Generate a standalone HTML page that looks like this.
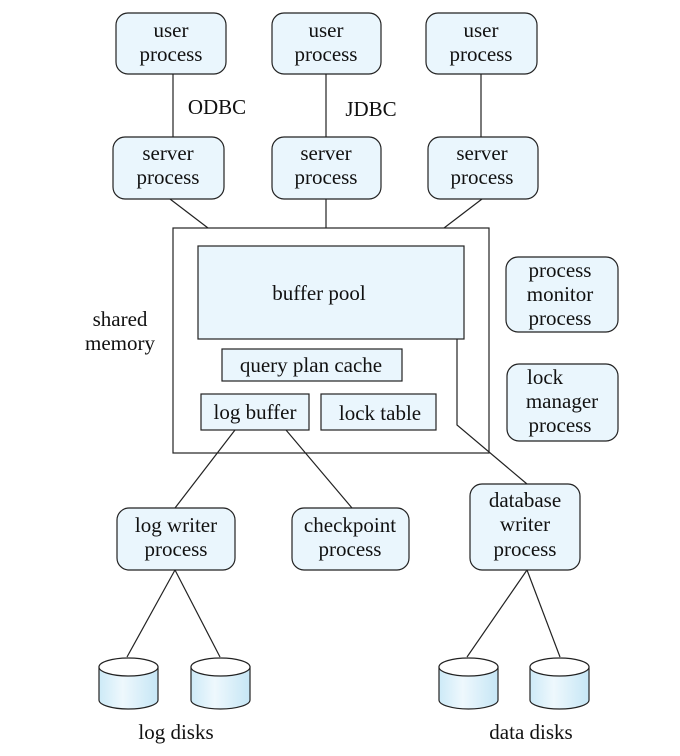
<!DOCTYPE html>
<html><head><meta charset="utf-8"><style>
html,body{margin:0;padding:0;background:#fff;}
svg{display:block;}
text{font-family:"Liberation Serif",serif;font-size:21px;fill:#111;text-anchor:middle;}
.b{fill:#eaf6fd;stroke:#222;stroke-width:1.2;}
.l{stroke:#222;stroke-width:1.2;fill:none;}
</style></head><body>
<svg width="680" height="756" viewBox="0 0 680 756">
<defs><linearGradient id="g" x1="0" x2="1"><stop offset="0" stop-color="#cdeaf7"/><stop offset="0.4" stop-color="#eef8fd"/><stop offset="1" stop-color="#c6e6f5"/></linearGradient></defs>
<!-- shared memory box -->
<rect x="173" y="228" width="316" height="225" fill="#fff" stroke="#222" stroke-width="1.2"/>
<!-- lines -->
<line class="l" x1="173" y1="74" x2="173" y2="137"/>
<line class="l" x1="326" y1="74" x2="326" y2="137"/>
<line class="l" x1="481" y1="74" x2="481" y2="137"/>
<line class="l" x1="170" y1="199" x2="208" y2="228"/>
<line class="l" x1="326" y1="199" x2="326" y2="228"/>
<line class="l" x1="482" y1="199" x2="444" y2="228"/>
<polyline class="l" points="457,339 457,425 527,484"/>
<line class="l" x1="235" y1="430" x2="175" y2="508"/>
<line class="l" x1="286" y1="430" x2="352" y2="508"/>
<line class="l" x1="175" y1="570" x2="127" y2="657"/>
<line class="l" x1="175" y1="570" x2="220" y2="657"/>
<line class="l" x1="527" y1="570" x2="467" y2="657"/>
<line class="l" x1="527" y1="570" x2="560" y2="657"/>
<!-- user/server -->
<rect class="b" x="116" y="13" width="110" height="61" rx="12"/>
<rect class="b" x="272" y="13" width="109" height="61" rx="12"/>
<rect class="b" x="426" y="13" width="111" height="61" rx="12"/>
<text x="171" y="37">user</text><text x="171" y="61">process</text>
<text x="326" y="37">user</text><text x="326" y="61">process</text>
<text x="481" y="37">user</text><text x="481" y="61">process</text>
<text x="217" y="114">ODBC</text><text x="371" y="116">JDBC</text>
<rect class="b" x="113" y="137" width="111" height="62" rx="12"/>
<rect class="b" x="272" y="137" width="109" height="62" rx="12"/>
<rect class="b" x="428" y="137" width="110" height="62" rx="12"/>
<text x="168" y="160">server</text><text x="168" y="184">process</text>
<text x="326" y="160">server</text><text x="326" y="184">process</text>
<text x="482" y="160">server</text><text x="482" y="184">process</text>
<text x="120" y="326">shared</text><text x="120" y="350">memory</text>
<rect class="b" x="198" y="246" width="266" height="93"/>
<text x="319" y="300">buffer pool</text>
<rect class="b" x="222" y="349" width="180" height="32"/>
<text x="311" y="372">query plan cache</text>
<rect class="b" x="201" y="394" width="108" height="36"/>
<text x="255" y="419">log buffer</text>
<rect class="b" x="321" y="394" width="115" height="36"/>
<text x="380" y="420">lock table</text>
<!-- right -->
<rect class="b" x="506" y="257" width="112" height="75" rx="12"/>
<text x="560" y="277">process</text><text x="560" y="301">monitor</text><text x="560" y="325">process</text>
<rect class="b" x="507" y="364" width="111" height="77" rx="12"/>
<text x="527" y="384" style="text-anchor:start">lock</text><text x="562" y="408">manager</text><text x="560" y="432">process</text>
<!-- lower -->
<rect class="b" x="117" y="508" width="118" height="62" rx="12"/>
<text x="176" y="532">log writer</text><text x="176" y="556">process</text>
<rect class="b" x="292" y="508" width="117" height="62" rx="12"/>
<text x="350" y="532">checkpoint</text><text x="350" y="556">process</text>
<rect class="b" x="470" y="484" width="110" height="86" rx="12"/>
<text x="525" y="507">database</text><text x="525" y="531">writer</text><text x="525" y="556">process</text>
<!-- disks -->
<g stroke="#222" stroke-width="1.2">
<path d="M99,667 v33 a29.5,9 0 0 0 59,0 v-33 z" fill="url(#g)"/><ellipse cx="128.5" cy="667" rx="29.5" ry="9" fill="#fff"/>
<path d="M191,667 v33 a29.5,9 0 0 0 59,0 v-33 z" fill="url(#g)"/><ellipse cx="220.5" cy="667" rx="29.5" ry="9" fill="#fff"/>
<path d="M439,667 v33 a29.5,9 0 0 0 59,0 v-33 z" fill="url(#g)"/><ellipse cx="468.5" cy="667" rx="29.5" ry="9" fill="#fff"/>
<path d="M530,667 v33 a29.5,9 0 0 0 59,0 v-33 z" fill="url(#g)"/><ellipse cx="559.5" cy="667" rx="29.5" ry="9" fill="#fff"/>
</g>
<text x="176" y="739">log disks</text>
<text x="531" y="739">data disks</text>
</svg>
</body></html>
